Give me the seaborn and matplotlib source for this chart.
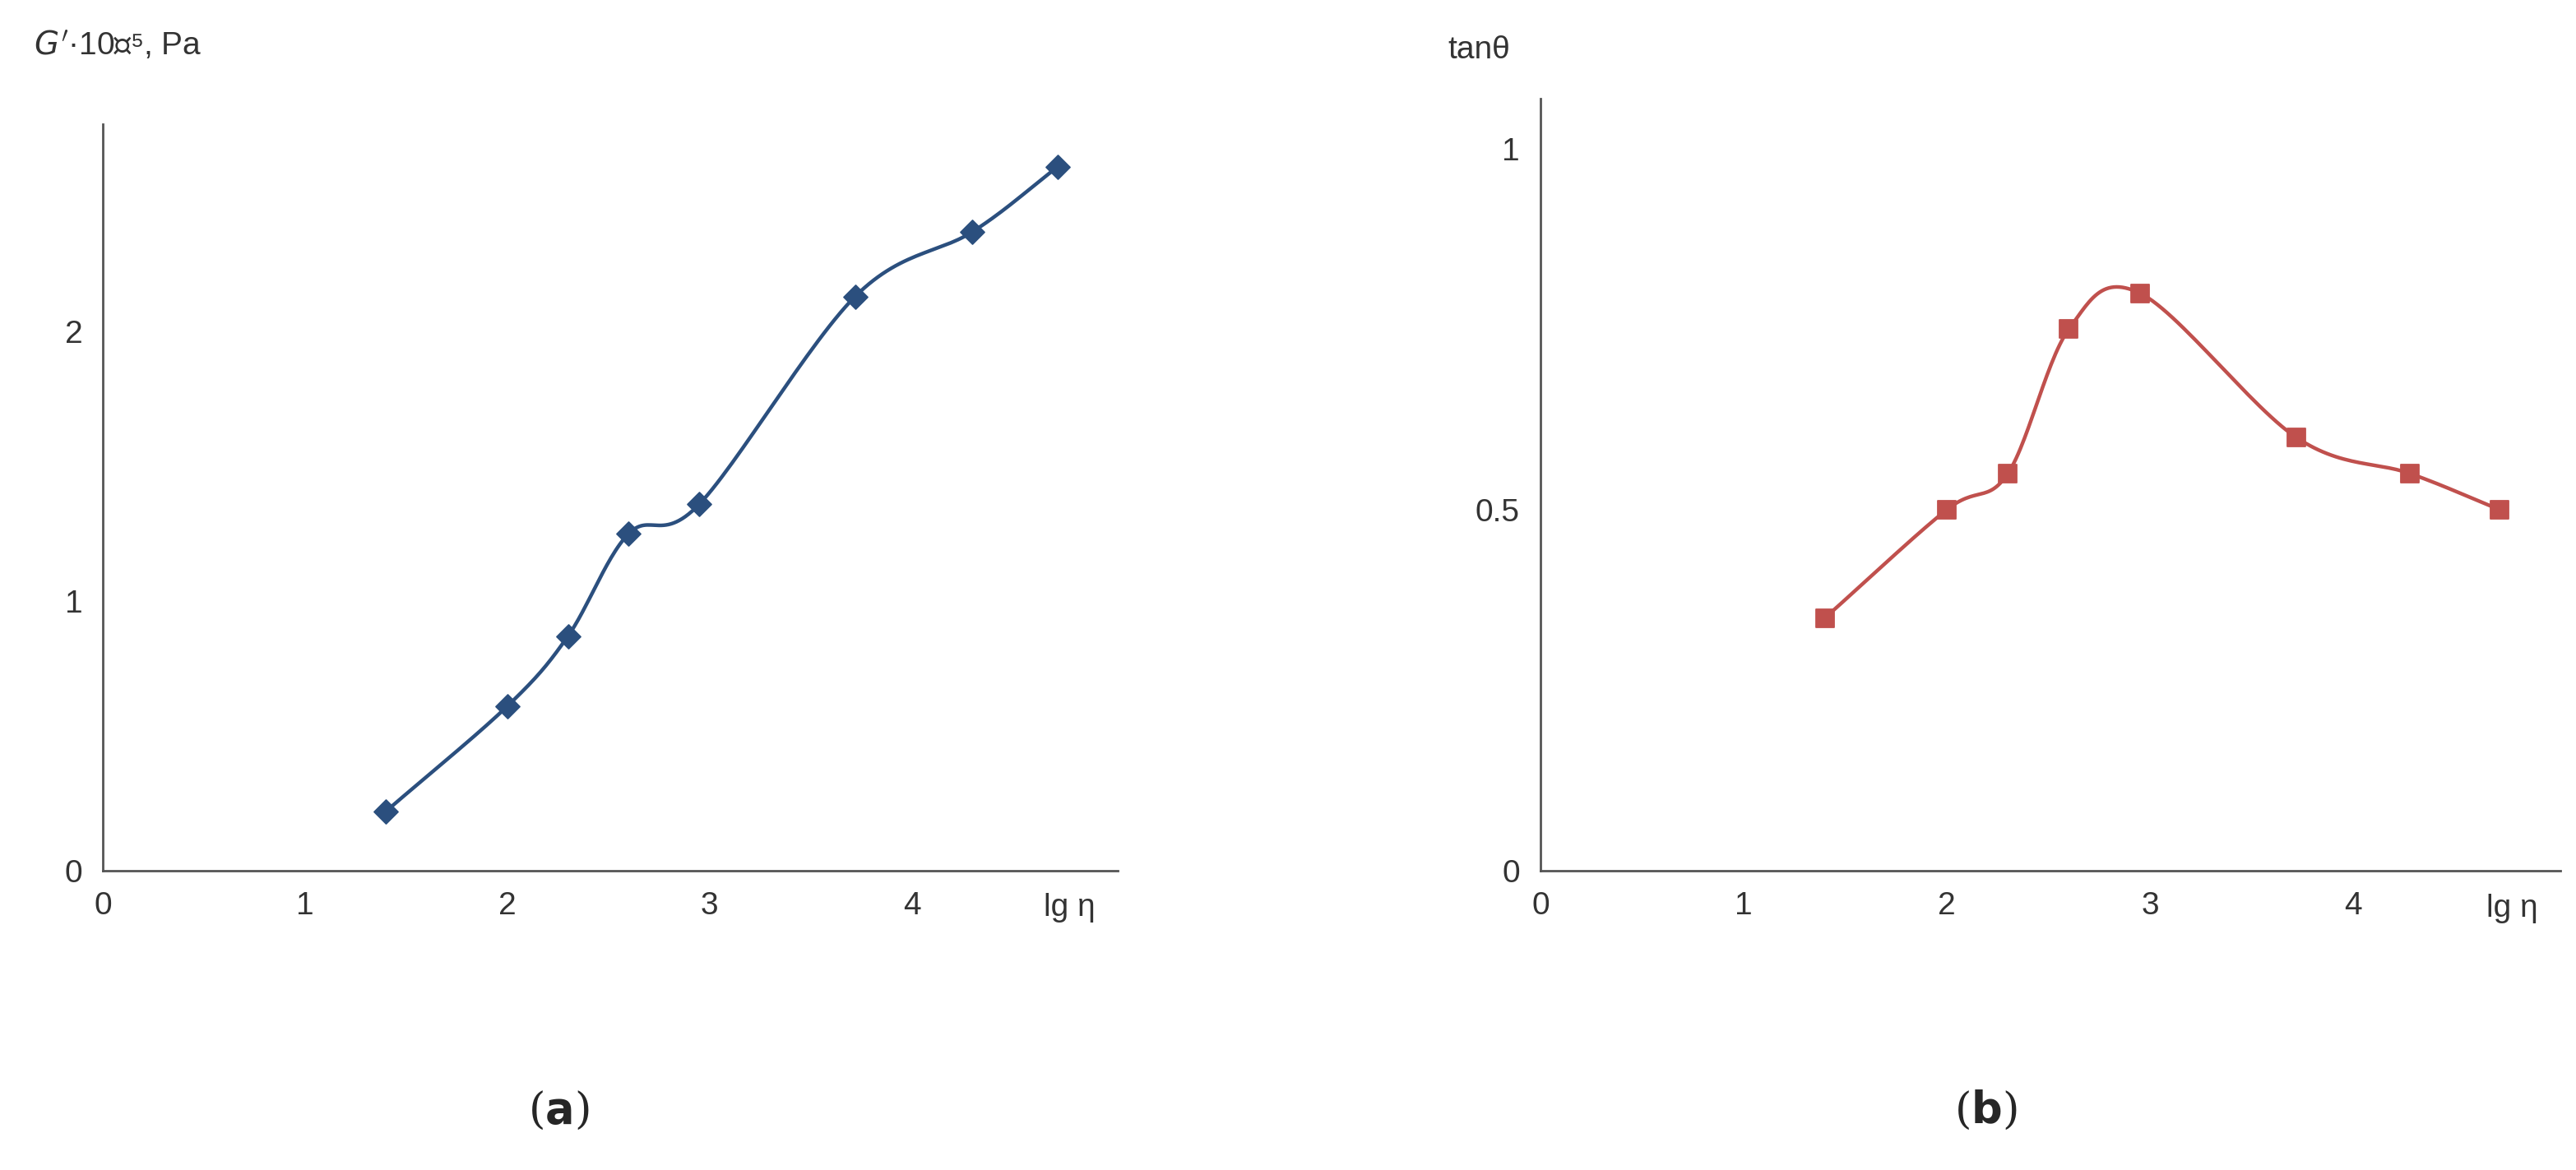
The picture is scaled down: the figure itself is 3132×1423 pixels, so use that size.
import numpy as np
import pandas as pd
import matplotlib
matplotlib.use('Agg')
import matplotlib.pyplot as plt
import seaborn as sns

sns.set_theme(style='white')
plt.rcParams['font.family'] = ['Liberation Sans', 'DejaVu Sans']

# data
lg_eta = [1.4, 2.0, 2.3, 2.6, 2.95, 3.72, 4.3, 4.72]
g_prime = [0.22, 0.61, 0.87, 1.25, 1.36, 2.13, 2.37, 2.61]
lg_eta_b = [1.4, 2.0, 2.3, 2.6, 2.95, 3.72, 4.28, 4.72]
tan_theta = [0.35, 0.50, 0.55, 0.75, 0.80, 0.60, 0.55, 0.50]


def smooth(x, y, n=30):
    # catmull-rom curve through the points (spreadsheet-style smoothed line)
    x = np.asarray(x, float); y = np.asarray(y, float)
    px = np.r_[2 * x[0] - x[1], x, 2 * x[-1] - x[-2]]
    py = np.r_[2 * y[0] - y[1], y, 2 * y[-1] - y[-2]]
    t = np.linspace(0, 1, n)[:, None]
    xs, ys = [], []
    for i in range(1, len(px) - 2):
        for p, out in ((px, xs), (py, ys)):
            p0, p1, p2, p3 = p[i - 1], p[i], p[i + 1], p[i + 2]
            out.append((0.5 * (2 * p1 + (-p0 + p2) * t + (2 * p0 - 5 * p1 + 4 * p2 - p3) * t ** 2
                               + (-p0 + 3 * p1 - 3 * p2 + p3) * t ** 3)).ravel())
    return np.concatenate(xs), np.concatenate(ys)


fig = plt.figure(figsize=(31.32, 14.23), dpi=100)
ax1 = fig.add_axes([0.040, 0.256, 0.394, 0.638])
ax2 = fig.add_axes([0.598, 0.256, 0.396, 0.660])

blue, red = '#2b4f7e', '#c0504d'
for ax, x, y, col, mk, ylim, yt in [
        (ax1, lg_eta, g_prime, blue, 'D', (0, 2.77), [0, 1, 2]),
        (ax2, lg_eta_b, tan_theta, red, 's', (0, 1.07), [0, 0.5, 1])]:
    sx, sy = smooth(x, y)
    sns.lineplot(x=sx, y=sy, ax=ax, color=col, lw=3.2, sort=False)
    sns.scatterplot(data=pd.DataFrame({'x': x, 'y': y}), x='x', y='y', ax=ax,
                    color=col, marker=mk, s=260 if mk == 's' else 220, edgecolor=col, zorder=3)
    ax.set_xlim(0, 5.02)
    ax.set_ylim(*ylim)
    ax.set_xticks([0, 1, 2, 3, 4])
    ax.set_yticks(yt)
    ax.set_yticklabels([f'{v:g}' for v in yt])
    ax.set_xlabel(''); ax.set_ylabel('')
    for s in ['top', 'right']:
        ax.spines[s].set_visible(False)
    for s in ['left', 'bottom']:
        ax.spines[s].set_color('#555555'); ax.spines[s].set_linewidth(2)
    ax.tick_params(direction='out', length=8, width=2, color='#555555',
                   labelsize=28, labelcolor='#333333', pad=10)
    ax.text(4.78, -0.03, 'lg η', transform=ax.get_xaxis_transform(), fontsize=28,
            color='#333333', ha='center', va='top')

fig.text(0.013, 0.975, "$G'$·10⁻⁵, Pa", fontsize=28, color='#333333', va='top')
fig.text(0.562, 0.97, 'tanθ', fontsize=28, color='#333333', va='top')
fig.text(0.217, 0.04, r'($\mathbf{a}$)', fontsize=38, ha='center', family='DejaVu Serif')
fig.text(0.771, 0.04, r'($\mathbf{b}$)', fontsize=38, ha='center', family='DejaVu Serif')

fig.savefig('out.png', dpi=100)
